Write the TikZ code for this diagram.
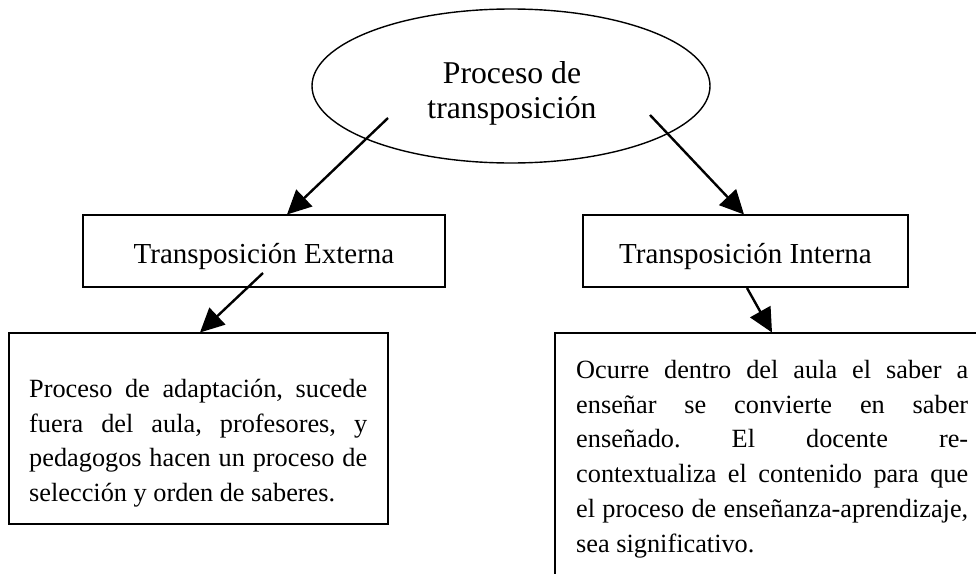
\documentclass[tikz,border=0pt]{standalone}
\usepackage{fontspec}
\setmainfont{Liberation Serif}
\usetikzlibrary{arrows.meta,shapes.geometric}
\begin{document}
\frenchspacing
\begin{tikzpicture}[x=1pt,y=-1pt,
  boxline/.style={draw=black, line width=1.4pt, inner sep=0pt},
  conn/.style={line width=2.4pt, -{Triangle[length=24pt,width=23pt]}},
  head/.style={inner sep=0pt, anchor=base, font=\fontsize{29}{34}\selectfont},
  body/.style={inner sep=0pt, anchor=north west, align=justify, font=\fontsize{26.3}{34.8}\selectfont\frenchspacing},
]
\useasboundingbox (0,0) rectangle (976,573);
\clip (0,0) rectangle (976,573);

% ellipse
\node[boxline, ellipse, minimum width=398pt, minimum height=154pt] (proc) at (511,86) {};
\node[inner sep=0pt, anchor=north, align=center, font=\fontsize{31.7}{35}\selectfont] (proct) at (512,51.3) {\rule{0pt}{31.7pt}Proceso de\\transposición};

% upper boxes
\node[boxline, minimum width=362pt, minimum height=72pt] (ext) at (264,251) {};
\node[head] (extt) at (264,263) {Transposición Externa};
\node[boxline, minimum width=325pt, minimum height=72pt] (int) at (745.5,251) {};
\node[head] (intt) at (745.5,263) {Transposición Interna};

% lower boxes
\node[boxline, minimum width=379pt, minimum height=191pt] (extd) at (198.5,428.5) {};
\node[body, text width=338pt] (extdt) at (29,370.7) {\rule{0pt}{26.3pt}Proceso de adaptación, sucede\linebreak fuera del aula, profesores, y\linebreak pedagogos hacen un proceso de\linebreak selección y orden de saberes.};
\node[boxline, minimum width=445pt, minimum height=267pt] (intd) at (777.5,466.5) {};
\node[body, text width=392pt] (intdt) at (576,351.7) {\rule{0pt}{26.3pt}Ocurre dentro del aula el saber a\linebreak enseñar se convierte en saber\linebreak enseñado. El docente re-\linebreak contextualiza el contenido para que\linebreak el proceso de enseñanza-aprendizaje,\linebreak sea significativo.};

% connectors
\coordinate (a1s) at (388,118);
\coordinate (a1e) at (287,214.5);
\coordinate (a2s) at (650,115);
\coordinate (a2e) at (744,214.5);
\coordinate (a3s) at (263,273);
\coordinate (a3e) at (200,332.5);
\coordinate (a4s) at (747,288);
\coordinate (a4e) at (772,332.5);
\draw[conn] (a1s) -- (a1e);
\draw[conn] (a2s) -- (a2e);
\draw[conn] (a3s) -- (a3e);
\draw[conn] (a4s) -- (a4e);
\end{tikzpicture}
\end{document}
